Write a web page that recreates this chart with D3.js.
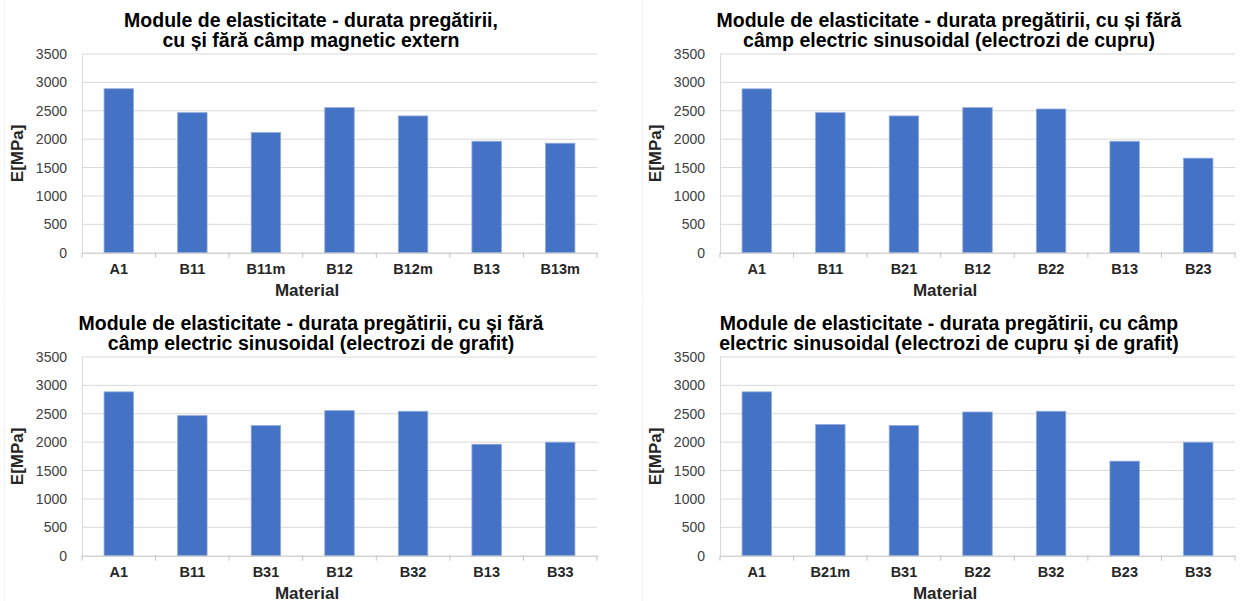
<!DOCTYPE html>
<html>
<head>
<meta charset="utf-8">
<script src="https://cdn.jsdelivr.net/npm/d3@7"></script>
<style>
  html, body { margin: 0; padding: 0; background: #ffffff; }
  svg { display: block; }
  text { font-family: "Liberation Sans", Arial, sans-serif; }
</style>
</head>
<body>
<svg id="chart" width="1241" height="601"></svg>
<script>
// ---- data ----
const yTicks = [0, 500, 1000, 1500, 2000, 2500, 3000, 3500];

const titles1 = ["Module de elasticitate - durata pregătirii,", "cu și fără câmp magnetic extern"];
const categories1 = ["A1", "B11", "B11m", "B12", "B12m", "B13", "B13m"];
const values1 = [2888, 2467, 2116, 2555, 2409, 1963, 1928];

const titles2 = ["Module de elasticitate - durata pregătirii, cu și fără", "câmp electric sinusoidal (electrozi de cupru)"];
const categories2 = ["A1", "B11", "B21", "B12", "B22", "B13", "B23"];
const values2 = [2886, 2467, 2409, 2555, 2531, 1963, 1665];

const titles3 = ["Module de elasticitate - durata pregătirii, cu și fără", "câmp electric sinusoidal (electrozi de grafit)"];
const categories3 = ["A1", "B11", "B31", "B12", "B32", "B13", "B33"];
const values3 = [2886, 2467, 2292, 2555, 2544, 1963, 1999];

const titles4 = ["Module de elasticitate - durata pregătirii, cu câmp", "electric sinusoidal (electrozi de cupru și de grafit)"];
const categories4 = ["A1", "B21m", "B31", "B22", "B32", "B23", "B33"];
const values4 = [2886, 2310, 2292, 2531, 2544, 1665, 1999];

const yLabel = "E[MPa]";
const xLabel = "Material";

// ---- layout ----
const panels = [
  { titles: titles1, cats: categories1, vals: values1, ox: 0,   oy: 0 },
  { titles: titles2, cats: categories2, vals: values2, ox: 638, oy: 0 },
  { titles: titles3, cats: categories3, vals: values3, ox: 0,   oy: 303 },
  { titles: titles4, cats: categories4, vals: values4, ox: 638, oy: 303 }
];

const svg = d3.select("#chart");
svg.append("rect").attr("width", 1241).attr("height", 601).attr("fill", "#fff");

const PL = 82, PR = 597, PT = 54, PB = 252.7;
const barColor = "#4472C4";

panels.forEach(p => {
  const g = svg.append("g").attr("transform", `translate(${p.ox},${p.oy})`);

  // very faint chart-area edge
  g.append("line")
    .attr("x1", 4.5).attr("x2", 4.5).attr("y1", 0).attr("y2", 300)
    .attr("stroke", "#f2f2f2");

  const x = d3.scaleBand().domain(p.cats).range([PL, PR])
    .paddingInner(0.6).paddingOuter(0.3);
  const y = d3.scaleLinear().domain([0, 3500]).range([PB, PT]);

  // gridlines
  g.append("g").selectAll("line").data(yTicks.filter(t => t > 0)).join("line")
    .attr("x1", PL).attr("x2", PR)
    .attr("y1", d => y(d)).attr("y2", d => y(d))
    .attr("stroke", "#d9d9d9").attr("stroke-width", 1);

  // y axis
  const ya = g.append("g").attr("transform", `translate(${PL},0)`)
    .call(d3.axisLeft(y).tickValues(yTicks).tickSize(0).tickPadding(15).tickFormat(d3.format("d")));
  ya.select(".domain").attr("stroke", "#d9d9d9");
  ya.selectAll("text").attr("font-size", "14px").attr("fill", "#404040")
    .attr("font-family", "Liberation Sans, Arial, sans-serif");

  // bars
  g.append("g").selectAll("rect").data(p.vals).join("rect")
    .attr("x", (d, i) => x(p.cats[i]))
    .attr("width", x.bandwidth())
    .attr("y", d => y(d))
    .attr("height", d => y(0) - y(d))
    .attr("fill", barColor)
    .attr("stroke", "#8fa9dc").attr("stroke-width", 0.8);

  // x axis
  const xa = g.append("g").attr("transform", `translate(0,${PB})`)
    .call(d3.axisBottom(x).tickSize(0).tickPadding(11));
  xa.select(".domain").attr("stroke", "#bfbfbf");
  xa.selectAll("text").attr("font-size", "14.5px").attr("font-weight", "bold")
    .attr("fill", "#262626").attr("font-family", "Liberation Sans, Arial, sans-serif");
  // boundary tick marks
  const bounds = d3.range(p.cats.length + 1).map(i => PL + i * x.step());
  g.append("g").selectAll("line").data(bounds).join("line")
    .attr("x1", d => d).attr("x2", d => d)
    .attr("y1", PB).attr("y2", PB + 5)
    .attr("stroke", "#bfbfbf");

  // title
  g.append("text")
    .attr("x", 311).attr("y", 26.7)
    .attr("text-anchor", "middle")
    .attr("font-size", "19.5px").attr("font-weight", "bold").attr("fill", "#000")
    .selectAll("tspan").data(p.titles).join("tspan")
    .attr("x", 311).attr("y", (d, i) => 26.7 + i * 20.5)
    .text(d => d);

  // axis titles
  g.append("text")
    .attr("transform", `translate(22.5,${(PT + PB) / 2}) rotate(-90)`)
    .attr("text-anchor", "middle")
    .attr("font-size", "17px").attr("font-weight", "bold").attr("fill", "#262626")
    .text(yLabel);
  g.append("text")
    .attr("x", 307).attr("y", PB + 42.8)
    .attr("text-anchor", "middle")
    .attr("font-size", "17px").attr("font-weight", "bold").attr("fill", "#262626")
    .text(xLabel);
});
</script>
</body>
</html>
